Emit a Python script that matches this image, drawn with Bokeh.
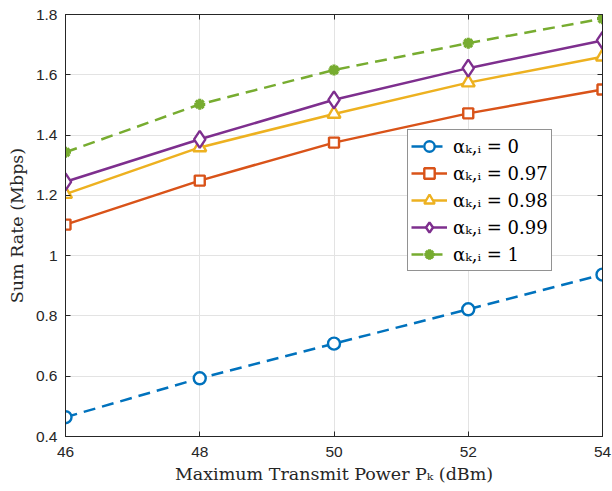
from bokeh.plotting import figure
from bokeh.models import Range1d, LinearAxis, Legend, LegendItem, FixedTicker, CustomJSTickFormatter
from bokeh.embed import file_html
from bokeh.resources import INLINE

# ---- data ----
power_dbm = [46, 48, 50, 52, 54]
rate_alpha_0 = [0.464, 0.593, 0.708, 0.822, 0.937]
rate_alpha_097 = [1.103, 1.249, 1.375, 1.472, 1.551]
rate_alpha_098 = [1.204, 1.359, 1.470, 1.574, 1.660]
rate_alpha_099 = [1.245, 1.386, 1.517, 1.622, 1.714]
rate_alpha_1 = [1.343, 1.502, 1.616, 1.705, 1.786]

x_ticks = [46, 48, 50, 52, 54]
x_tick_labels = ["46", "48", "50", "52", "54"]
y_ticks = [0.4, 0.6, 0.8, 1.0, 1.2, 1.4, 1.6, 1.8]
y_tick_labels = ["0.4", "0.6", "0.8", "1", "1.2", "1.4", "1.6", "1.8"]

labels = ["αₖ,ᵢ = 0", "αₖ,ᵢ = 0.97", "αₖ,ᵢ = 0.98", "αₖ,ᵢ = 0.99", "αₖ,ᵢ = 1"]

AX = "#262626"
TICK_FONT = "Liberation Sans"
SERIF = "DejaVu Serif"

p = figure(width=612, height=491, output_backend="svg", toolbar_location=None,
           x_range=Range1d(46, 54), y_range=Range1d(0.4, 1.8),
           min_border_left=65, min_border_right=10, min_border_top=14, min_border_bottom=55)
p.background_fill_color = "white"
p.border_fill_color = "white"
p.outline_line_color = AX
p.outline_line_width = 1

for ax in (p.xaxis[0], p.yaxis[0]):
    ax.axis_line_color = AX
    ax.major_tick_line_color = AX
    ax.major_tick_in = 5
    ax.major_tick_out = 0
    ax.minor_tick_line_color = None
    ax.major_label_text_font = TICK_FONT
    ax.major_label_text_font_size = "15.5px"
    ax.major_label_text_color = AX
    ax.axis_label_text_font = SERIF
    ax.axis_label_text_font_style = "normal"
    ax.axis_label_text_font_size = "17.5px"
    ax.axis_label_text_color = AX

p.xaxis[0].ticker = FixedTicker(ticks=x_ticks)
p.xaxis[0].major_label_overrides = {t: l for t, l in zip(x_ticks, x_tick_labels)}
p.yaxis[0].ticker = FixedTicker(ticks=y_ticks)
p.yaxis[0].major_label_overrides = {t: l for t, l in zip(y_ticks, y_tick_labels)}
p.xaxis[0].axis_label = "Maximum Transmit Power Pₖ (dBm)"
p.yaxis[0].axis_label = "Sum Rate (Mbps)"
p.xaxis[0].major_label_standoff = 10
p.yaxis[0].major_label_standoff = 8
p.xaxis[0].axis_label_standoff = 4
p.yaxis[0].axis_label_standoff = 6

# box axes (ticks only)
empty = CustomJSTickFormatter(code="return ''")
top = LinearAxis(ticker=FixedTicker(ticks=x_ticks), formatter=empty)
right = LinearAxis(ticker=FixedTicker(ticks=y_ticks), formatter=empty)
for ax in (top, right):
    ax.axis_line_color = AX
    ax.major_tick_line_color = AX
    ax.major_tick_in = 5
    ax.major_tick_out = 0
    ax.minor_tick_line_color = None
    ax.major_label_standoff = 0
    ax.major_label_text_font_size = "1px"
p.add_layout(top, "above")
p.add_layout(right, "right")

p.xgrid.ticker = FixedTicker(ticks=x_ticks)
p.ygrid.ticker = FixedTicker(ticks=y_ticks)
p.grid.grid_line_color = "#e3e3e3"
p.grid.grid_line_width = 1

series = [
    (rate_alpha_0, "#0072BD", "circle", "12 7", 12),
    (rate_alpha_097, "#D95319", "square", "solid", 10),
    (rate_alpha_098, "#EDB120", "triangle", "solid", 13),
    (rate_alpha_099, "#7E2F8E", "diamond", "solid", 17),
    (rate_alpha_1, "#77AC30", "asterisk", "12 7", 11),
]

items = []
for (ys, color, marker, dash, size), lab in zip(series, labels):
    ln = p.line(power_dbm, ys, line_color=color, line_width=2.5, line_dash=dash)
    sc = p.scatter(power_dbm, ys, marker=marker, size=size, line_color=color,
                   fill_color=color if marker == "asterisk" else "white",
                   line_width=2.4 if marker != "asterisk" else 3.2)
    items.append(LegendItem(label=lab, renderers=[ln, sc]))

legend = Legend(items=items, location=(342, 165))
legend.border_line_color = AX
legend.border_line_width = 1
legend.background_fill_color = "white"
legend.background_fill_alpha = 1
legend.label_text_font = SERIF
legend.label_text_font_size = "18px"
legend.label_text_font_style = "normal"
legend.label_text_color = "black"
legend.glyph_width = 36
legend.glyph_height = 26
legend.spacing = 1
legend.padding = 3
legend.label_standoff = 6
legend.margin = 0
p.add_layout(legend, "center")

open("out.html", "w").write(file_html(p, INLINE))
